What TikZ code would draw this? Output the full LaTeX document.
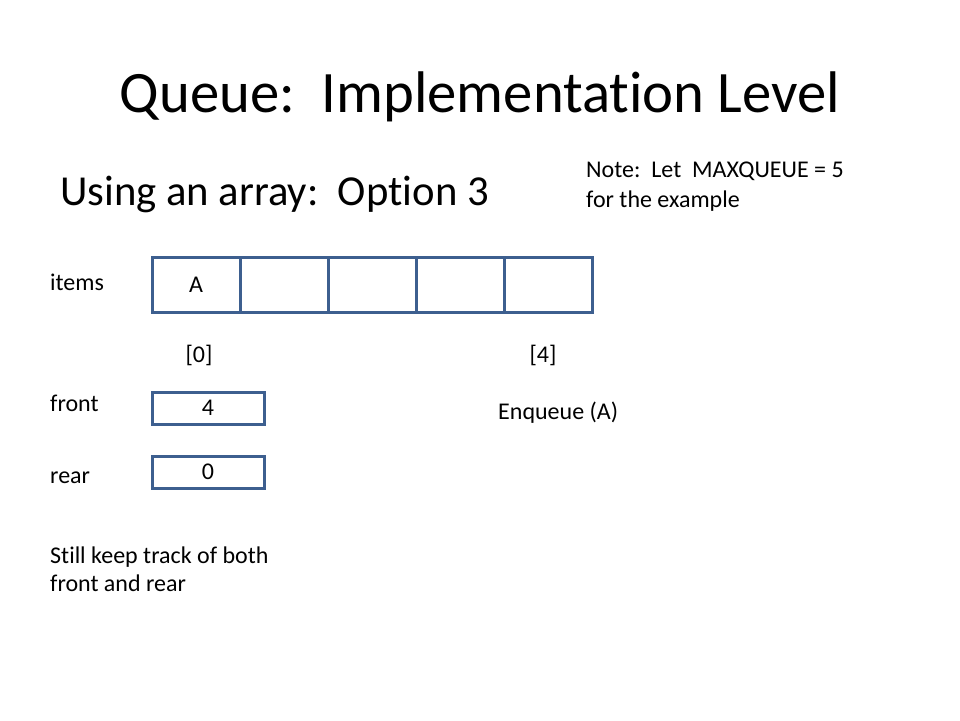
\documentclass[tikz,border=0pt]{standalone}
\usepackage{fontspec}
\setmainfont[Ligatures={NoCommon}]{Carlito}
\definecolor{boxblue}{HTML}{3D5F8F}
\newcommand{\titlesize}{\fontsize{58.7}{70}\selectfont}
\newcommand{\subsize}{\fontsize{42.7}{51}\selectfont}
\newcommand{\smallsize}{\fontsize{24}{29}\selectfont}
\begin{document}
\begin{tikzpicture}[x=1pt,y=-1pt,
    cell/.style={draw=boxblue,line width=3pt,minimum width=88pt,minimum height=55pt,inner sep=0pt,font=\smallsize},
    varbox/.style={draw=boxblue,line width=3pt,minimum width=112pt,minimum height=32pt,inner sep=0pt,font=\smallsize},
    lbl/.style={anchor=base west,inner sep=0pt,font=\smallsize,align=left}]
    \useasboundingbox[fill=white] (0,0) rectangle (960,720);
    % headings
    \node[anchor=base,inner sep=0pt,font=\titlesize] (title) at (480,112) {Queue:\ \ Implementation Level};
    \node[anchor=base west,inner sep=0pt,font=\subsize] (sub) at (60,205) {Using an array:\ \ Option 3};
    \node[lbl] (note) at (586,177) {Note:\ \ Let\ \ MAXQUEUE = 5};
    \node[lbl] (note2) at (586,207) {for the example};
    % the array
    \node[lbl] (items) at (50,290) {items};
    \foreach \i in {0,...,4} {
      \def\content{}
      \ifnum\i=0 \def\content{A}\fi
      \node[cell] (cell\i) at (196+88*\i, 284.5) {\content};
    }
    \node[font=\smallsize,inner sep=0pt] (idx0) at (199,355) {[0]};
    \node[font=\smallsize,inner sep=0pt] (idx4) at (543,355) {[4]};
    % front and rear
    \node[lbl] (frontlbl) at (50,411) {front};
    \node[varbox] (front) at (208,408) {4};
    \node[lbl] (rearlbl) at (50,483) {rear};
    \node[varbox] (rear) at (208,472) {0};
    \node[lbl] (op) at (498,419) {Enqueue (A)};
    \node[lbl] (still) at (50,563) {Still keep track of both};
    \node[lbl] (still2) at (50,591) {front and rear};
\end{tikzpicture}
\end{document}
